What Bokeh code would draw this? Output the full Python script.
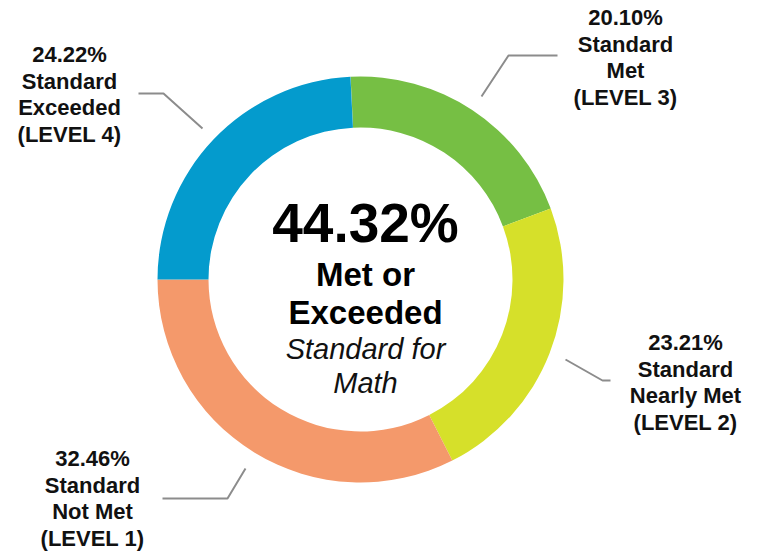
import numpy as np
from bokeh.plotting import figure
from bokeh.models import Range1d
from bokeh.core.properties import value
from bokeh.embed import file_html
from bokeh.resources import INLINE

# ---- data ----
levels = ["LEVEL 3", "LEVEL 2", "LEVEL 1", "LEVEL 4"]
names = ["Met", "Nearly Met", "Not Met", "Exceeded"]
pcts = [20.10, 23.21, 32.46, 24.22]
colors = ["#76BF44", "#D6E02A", "#F4996B", "#049BCD"]
center_pct = 44.32
center_bold = ["Met or", "Exceeded"]
center_italic = ["Standard for", "Math"]

# ---- layout (image pixel coordinates; data y = -image y) ----
W, H = 761, 551
cx, cy = 360, 279
r_in, r_out = 152, 203
start_offset_deg = 2.8  # ring starts slightly left of 12 o'clock

p = figure(width=W, height=H, output_backend="svg", toolbar_location=None,
           x_range=Range1d(0, W), y_range=Range1d(-H, 0),
           min_border=0, outline_line_color=None)
p.axis.visible = False
p.grid.visible = False
p.background_fill_color = "white"
p.border_fill_color = "white"

cum = np.concatenate([[0.0], np.cumsum(pcts)])
starts = np.deg2rad(90 + start_offset_deg - 3.6 * cum[:-1])
ends = np.deg2rad(90 + start_offset_deg - 3.6 * cum[1:])
p.annular_wedge(x=cx, y=-cy, inner_radius=r_in, outer_radius=r_out,
                start_angle=starts, end_angle=ends, direction="clock",
                fill_color=colors, line_color=None)

# leader lines
leaders_x = [[557, 508, 481], [565, 602, 610], [162, 227, 245], [138, 163, 202]]
leaders_y = [[55, 55, 96], [359, 380, 380], [498, 498, 468], [93, 93, 128]]
p.multi_line(xs=leaders_x, ys=[[-v for v in ys] for ys in leaders_y],
             line_color="#8C8C8C", line_width=2)

# outer labels
label_pos = [(625, 17), (685, 342), (92, 458), (69, 54)]
spacing = 26.7
font = value("Liberation Sans")
for pct, name, lvl, (lx, ly) in zip(pcts, names, levels, label_pos):
    lines = [f"{pct:.2f}%", "Standard", name, f"({lvl})"]
    p.text(x=[lx] * 4, y=[-(ly + i * spacing) for i in range(4)], text=lines,
           text_font=font, text_font_size="22px", text_font_style="bold",
           text_align="center", text_baseline="middle", text_color="#111111")

# center text
tx = 365
p.text(x=[tx], y=[-222], text=[f"{center_pct:.2f}%"], text_font=font,
       text_font_size="55px", text_font_style="bold", text_align="center",
       text_baseline="middle", text_color="#000000")
p.text(x=[tx, tx], y=[-274, -312], text=center_bold, text_font=font,
       text_font_size="33px", text_font_style="bold", text_align="center",
       text_baseline="middle", text_color="#000000")
p.text(x=[tx, tx], y=[-348, -382], text=center_italic, text_font=font,
       text_font_size="29px", text_font_style="italic", text_align="center",
       text_baseline="middle", text_color="#111111")

open("out.html", "w").write(file_html(p, INLINE))
